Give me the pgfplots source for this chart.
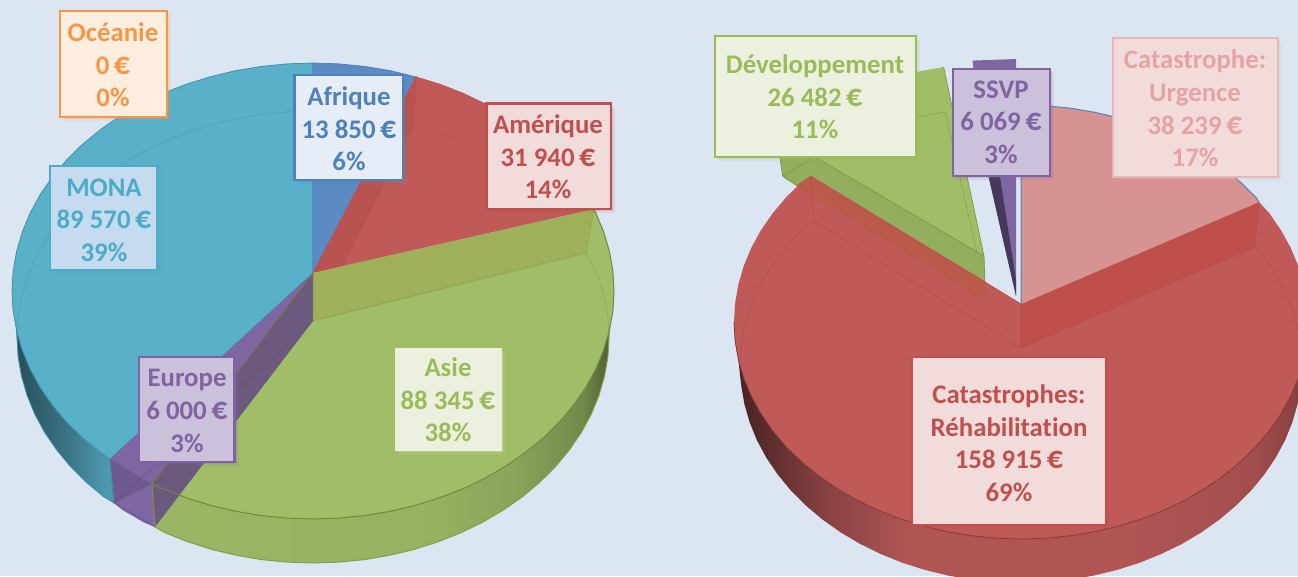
\documentclass[border=0pt]{standalone}
\usepackage{fontspec}
\usepackage{pgfplots}
\pgfplotsset{compat=1.18}
\usetikzlibrary{shadows}
\setmainfont{Carlito}[BoldFont={Carlito Bold},Ligatures=CommonOff]
\newcommand\eur{\kern-1.5pt{\fontsize{32}{32.6}\selectfont €}}
\definecolor{bg}{HTML}{DCE6F2}
\definecolor{cBlue}{HTML}{4F81BD}
\definecolor{cBlueF}{HTML}{5C8AC2}
\definecolor{cRed}{HTML}{C0504D}
\definecolor{cRedF}{HTML}{C05A58}
\definecolor{cRedW}{HTML}{B95352}
\definecolor{cRedR}{HTML}{BE4F4B}
\definecolor{cRedO}{HTML}{B95A4A}
\definecolor{cRedL}{HTML}{B04E4C}
\definecolor{cRim}{HTML}{B55757}
\definecolor{cPink}{HTML}{D79392}
\definecolor{cGreen}{HTML}{9BBB59}
\definecolor{cGreenF}{HTML}{A0BE68}
\definecolor{cGreenW}{HTML}{93AF5D}
\definecolor{cOlive}{HTML}{9EB05A}
\definecolor{cTeal}{HTML}{4BACC6}
\definecolor{cTealF}{HTML}{58B0C9}
\definecolor{cPurple}{HTML}{8064A2}
\definecolor{cPurpleF}{HTML}{7E66A3}
\definecolor{cPurpleD}{HTML}{6C5A7E}
\definecolor{cOrange}{HTML}{F79646}
\definecolor{lo}{HTML}{FEEEE0}
\definecolor{lb}{HTML}{E6EDF6}
\definecolor{lr}{HTML}{F2DCDB}
\definecolor{lt}{HTML}{C6DAF0}
\definecolor{lp}{HTML}{CCC1DA}
\definecolor{lg}{HTML}{EBF1DE}
\definecolor{ll}{HTML}{E6B9B8}
\definecolor{lm}{HTML}{E6A3A3}
\pgfdeclarehorizontalshading{tealrim}{100bp}{color(0bp)=(black!55!cTealF); color(25bp)=(black!55!cTealF); color(50bp)=(black!35!cTealF); color(70bp)=(black!14!cTealF); color(100bp)=(black!12!cTealF)}
\pgfdeclarehorizontalshading{greenrim}{100bp}{color(0bp)=(cGreenF!96!black); color(25bp)=(cGreenF!96!black); color(55bp)=(cGreenF!94!black); color(65bp)=(cGreenF!86!black); color(72bp)=(cGreenF!72!black); color(75bp)=(cGreenF!50!black); color(100bp)=(cGreenF!50!black)}
\pgfdeclarehorizontalshading{redrim}{100bp}{color(0bp)=(cRim!38!black); color(25bp)=(cRim!38!black); color(33bp)=(cRim!75!black); color(40bp)=(cRim!97!black); color(60bp)=(cRim!97!black); color(70bp)=(cRim!90!black); color(75bp)=(cRim!72!black); color(100bp)=(cRim!72!black)}
% front arc of the left top ellipse, Asie
\def\LTc{(594,209.3)(595.9,213)(603.7,232)(609.4,251.4)(612.9,271.1)(614,291)(612.9,310.9)(609.4,330.6)(603.7,350)(595.9,369)(585.8,387.4)(573.7,405)(559.6,421.8)(543.6,437.6)(525.8,452.2)(506.5,465.6)(485.7,477.8)(463.5,488.5)(440.2,497.6)(415.9,505.2)(390.9,511.2)(365.3,515.5)(339.2,518.1)(313,519)(286.8,518.1)(260.7,515.5)(235.1,511.2)(210.1,505.2)(185.8,497.6)(162.5,488.5)(152,484)}
\def\Poly#1#2{\edef\tmpc{#2}\expandafter\PolyB\expandafter{\tmpc}{#1}}
\def\PolyB#1#2{\addplot[#2] coordinates {#1};}
\newcommand\Lab[9]{%
  \draw[fill=#5,draw=#6,line width=#7,
    general shadow={shadow xshift=4pt,shadow yshift=-4pt,opacity=.12,fill=#6},
    general shadow={shadow xshift=2pt,shadow yshift=-2pt,opacity=.18,fill=#6}]
    (axis cs:#1,#2) rectangle (axis cs:#3,#4);
  \node[text=#8,align=center,font=\fontsize{26.8}{32.6}\selectfont\bfseries,inner sep=0pt] at (axis cs:#9)}
\begin{document}
\begin{tikzpicture}
\begin{axis}[width=1298pt,height=576pt,scale only axis,xmin=0,xmax=1298,ymin=0,ymax=576,y dir=reverse,
  axis line style={draw=none},ticks=none,clip=true,
  every axis plot/.append style={mark=none}]
\addplot[fill=bg,draw=none] coordinates {(0,0)(1298,0)(1298,576)(0,576)} --cycle;
%%%%%%%%%% LEFT PIE: rims
\addplot[shade,shading=tealrim,draw=none] coordinates {(16.6,330.6)(22.3,350)(30.1,369)(40.2,387.4)(52.3,405)(66.4,421.8)(82.4,437.6)(100.2,452.2)(110,459)(114,503)(103.7,496.8)(86.3,482.3)(70.5,466.6)(56.7,450)(44.7,432.5)(34.8,414.3)(27.1,395.5)(21.5,376.2)(18.1,356.7)} --cycle;
\addplot[fill=cPurpleF,draw=none] coordinates {(110,459)(152,484)(155,527)(143.2,522.1)(122.7,510.1)(114,503)} --cycle;
\addplot[shade,shading=greenrim,draw=none] coordinates {(152,484)(162.5,488.5)(185.8,497.6)(210.1,505.2)(235.1,511.2)(260.7,515.5)(286.8,518.1)(313,519)(339.2,518.1)(365.3,515.5)(390.9,511.2)(415.9,505.2)(440.2,497.6)(463.5,488.5)(485.7,477.8)(506.5,465.6)(525.8,452.2)(543.6,437.6)(559.6,421.8)(573.7,405)(585.8,387.4)(595.9,369)(603.7,350)(609.4,330.6)(607.9,356.7)(604.5,376.2)(598.9,395.5)(591.2,414.3)(581.3,432.5)(569.3,450)(555.5,466.6)(539.7,482.3)(522.3,496.8)(503.3,510.1)(482.8,522.1)(461,532.7)(438.1,541.8)(414.2,549.4)(389.6,555.3)(364.4,559.6)(338.8,562.1)(313,563)(287.2,562.1)(261.6,559.6)(236.4,555.3)(211.8,549.4)(187.9,541.8)(165,532.7)(155,527)} --cycle;
%%%%%%%%%% faces
\addplot[fill=cTealF,draw=cTeal!85!black,line width=.8pt] coordinates {(313,273)(110,459)(100.2,452.2)(82.4,437.6)(66.4,421.8)(52.3,405)(40.2,387.4)(30.1,369)(22.3,350)(16.6,330.6)(13.1,310.9)(12,291)(13.1,271.1)(16.6,251.4)(22.3,232)(30.1,213)(40.2,194.6)(52.3,177)(66.4,160.2)(82.4,144.4)(100.2,129.8)(119.5,116.4)(140.3,104.2)(162.5,93.5)(185.8,84.4)(210.1,76.8)(235.1,70.8)(260.7,66.5)(286.8,63.9)(313,63)} --cycle;
\addplot[fill=cBlueF,draw=cBlue,line width=.8pt] coordinates {(313,273)(313,63)(339.2,63.9)(365.3,66.5)(390.9,70.8)(416,77)} --cycle;
\addplot[fill=cRedF,draw=none] coordinates {(313,273)(416,77)(440.2,84.4)(463.5,93.5)(485.7,104.2)(506.5,116.4)(525.8,129.8)(543.6,144.4)(559.6,160.2)(573.7,177)(585.8,194.6)(594,209.3)} --cycle;
\Poly{fill=cGreenF,draw=none}{(313,273)\LTc} 
\addplot[fill=cPurpleF,draw=none] coordinates {(313,273)(110,459)(119.5,465.6)(140.3,477.8)(152,484)} --cycle;
%%%%%%%%%% walls seen through
\addplot[fill=cRedW,draw=none] coordinates {(313,273)(416,77)(414,125)(343,266)} --cycle;
\addplot[fill=cOlive,draw=none] coordinates {(313,273)(594,209.3)(586,253)(313,321)} --cycle;
\addplot[fill=cPurpleD,draw=none] coordinates {(313,273)(152,484)(155,527)(313,321)} --cycle;
\addplot[fill=black!12!cPurpleF,draw=none] coordinates {(110,459)(114,503)(152,484)} --cycle;
\addplot[draw=cOlive!70!black,line width=.8pt] coordinates {(313,273)(152,484)};
\addplot[draw=cPurple!80!black,line width=.6pt] coordinates {(110,459)(114,503)(155,527)};
\addplot[draw=cPurple!75!black,line width=.5pt,opacity=.6] coordinates {(313,321)(114,503)};
\addplot[draw=cOlive!90!black,line width=.5pt] coordinates {(594,209.3)(586,253)(313,321)(313,273)};
\addplot[draw=cRed,line width=.7pt] coordinates {(313,273)(416,77)(414,125)};
\addplot[draw=cRed,line width=.5pt] coordinates {(414,125)(438.1,132.2)(461,141.3)(482.8,151.9)(503.3,163.9)};
\addplot[draw=cGreen!90!black,line width=.5pt] coordinates {(586,253)(598.9,278.5)(604.5,297.8)(607.9,317.3)(609,337)};
\addplot[draw=cTeal!90!black,line width=.6pt,opacity=.7] coordinates {(313,111)(287.2,111.9)(261.6,114.4)(236.4,118.7)(211.8,124.6)(187.9,132.2)(165,141.3)(143.2,151.9)(122.7,163.9)(103.7,177.2)(86.3,191.7)(70.5,207.4)(56.7,224)(44.7,241.5)(34.8,259.7)(27.1,278.5)(21.5,297.8)(18.1,317.3)(17,337)(18.1,356.7)(21.5,376.2)};
% outlines
\Poly{draw=cGreen!72!black,line width=1pt}{\LTc}
\addplot[draw=cOlive!80!black,line width=1.2pt] coordinates {(152,484)(155,527)};
\addplot[draw=cGreen!85!black,line width=1pt] coordinates {(155,527)(165,532.7)(187.9,541.8)(211.8,549.4)(236.4,555.3)(261.6,559.6)(287.2,562.1)(313,563)(338.8,562.1)(364.4,559.6)(389.6,555.3)(414.2,549.4)(438.1,541.8)(461,532.7)(482.8,522.1)(503.3,510.1)(522.3,496.8)(539.7,482.3)(555.5,466.6)(569.3,450)(581.3,432.5)(591.2,414.3)(598.9,395.5)(604.5,376.2)(607.9,356.7)(609.4,330.6)};
\addplot[draw=cRed,line width=.8pt] coordinates {(416,77)(440.2,84.4)(463.5,93.5)(485.7,104.2)};
\addplot[draw=cTeal!85!black,line width=.8pt] coordinates {(110,459)(114,503)(103.7,496.8)(86.3,482.3)(70.5,466.6)(56.7,450)(44.7,432.5)(34.8,414.3)(27.1,395.5)(21.5,376.2)(18.1,356.7)(16.6,330.6)};
%%%%%%%%%% RIGHT PIE: exploded slices
\addplot[fill=cGreenF,draw=none] coordinates {(943.6,67)(984,256)(985.5,302)(784,178)(780,158)(780,100)(916,72)} --cycle;
\addplot[fill=cGreenW,draw=none] coordinates {(816.7,158)(984,256)(985.5,302)(782.7,176)(780,158)} --cycle;
\addplot[draw=cGreen!80!black,line width=.7pt] coordinates {(943.6,67)(984,256)(985.5,302)};
\addplot[draw=cGreen!80!black,line width=.7pt] coordinates {(780,158)(782.7,176)(797,185.5)};
\addplot[draw=cGreen!80!black,line width=.5pt] coordinates {(782.7,176)(813,158)};
\addplot[draw=cGreen!80!black,line width=.7pt] coordinates {(816.7,158)(984,256)};
\addplot[draw=cGreen!85!black,line width=.5pt] coordinates {(916,117)(945,112)(977,253)};
\addplot[fill=cPurpleF,draw=none] coordinates {(972.5,60.6)(1016,59)(1016,296)(988.7,177)} --cycle;
\addplot[fill=black!45!cPurpleF,draw=none] coordinates {(988.7,177)(1000,177)(1016,280)(1016,296)} --cycle;
%%%%%%%%%% red slice
\addplot[shade,shading=redrim,draw=none] coordinates {(738.4,359.7)(735.1,340.9)(743.8,378.2)(751.3,396.2)(760.9,413.7)(772.5,430.5)(785.9,446.5)(801.2,461.5)(818.1,475.4)(836.5,488.2)(856.4,499.8)(877.5,509.9)(899.7,518.7)(922.8,525.9)(946.7,531.6)(971.2,535.7)(996,538.2)(1021,539)(1046,538.2)(1070.8,535.7)(1095.3,531.6)(1119.2,525.9)(1142.3,518.7)(1164.5,509.9)(1185.6,499.8)(1205.5,488.2)(1223.9,475.4)(1240.8,461.5)(1256.1,446.5)(1269.5,430.5)(1281.1,413.7)(1290.7,396.2)(1298.2,378.2)(1303.6,359.7)(1306.9,340.9)(1300.9,384.9)(1297.7,403.7)(1292.4,422.2)(1285.1,440.2)(1275.7,457.7)(1264.3,474.5)(1251.2,490.5)(1236.2,505.5)(1219.7,519.4)(1201.6,532.2)(1182.2,543.8)(1161.5,553.9)(1139.8,562.7)(1117.1,569.9)(1093.7,575.6)(1069.8,579.7)(1045.5,582.2)(1021,583)(996.5,582.2)(972.2,579.7)(948.3,575.6)(924.9,569.9)(902.2,562.7)(880.5,553.9)(859.8,543.8)(840.4,532.2)(822.3,519.4)(805.8,505.5)(790.8,490.5)(777.7,474.5)(766.3,457.7)(756.9,440.2)(749.6,422.2)(744.3,403.7)(741.1,384.9)} --cycle;
\addplot[fill=cRedF,draw=none] coordinates {(1021,304)(1259,202)(1269.5,213.5)(1281.1,230.3)(1290.7,247.8)(1298.2,265.8)(1303.6,284.3)(1306.9,303.1)(1308,322)(1306.9,340.9)(1303.6,359.7)(1298.2,378.2)(1290.7,396.2)(1281.1,413.7)(1269.5,430.5)(1256.1,446.5)(1240.8,461.5)(1223.9,475.4)(1205.5,488.2)(1185.6,499.8)(1164.5,509.9)(1142.3,518.7)(1119.2,525.9)(1095.3,531.6)(1070.8,535.7)(1046,538.2)(1021,539)(996,538.2)(971.2,535.7)(946.7,531.6)(922.8,525.9)(899.7,518.7)(877.5,509.9)(856.4,499.8)(836.5,488.2)(818.1,475.4)(801.2,461.5)(785.9,446.5)(772.5,430.5)(760.9,413.7)(751.3,396.2)(743.8,378.2)(738.4,359.7)(735.1,340.9)(734,322)(735.1,303.1)(738.4,284.3)(743.8,265.8)(751.3,247.8)(760.9,230.3)(772.5,213.5)(785.9,197.5)(801.2,182.5)(810.5,176)} --cycle;
\addplot[fill=cRedO,draw=none] coordinates {(810,176.7)(986,282)(986,302)(796,185.5)} --cycle;
\addplot[fill=cRedR,draw=none] coordinates {(1021,304)(1259,202)(1255,247)(1021,348)} --cycle;
\addplot[draw=cRedL,line width=.5pt] coordinates {(1259,202)(1255,247)(1021,348)(1021,304)};
\addplot[draw=cRedL,line width=.5pt] coordinates {(810.5,176)(814,221.5)(1021,348)};
\addplot[draw=cRed,line width=.8pt] coordinates {(810.5,176)(1021,304)};
\addplot[draw=cRedL,line width=.5pt] coordinates {(814,221.5)(805.8,226.5)(790.8,241.5)(777.7,257.5)(766.3,274.3)(756.9,291.8)(749.6,309.8)(744.3,328.3)(741.1,347.1)(740,366)};
\addplot[draw=cRedL,line width=.5pt] coordinates {(1255,247)(1264.3,257.5)(1275.7,274.3)(1285.1,291.8)(1292.4,309.8)(1297.7,328.3)(1300.9,347.1)(1302,366)};
\addplot[draw=cRed!70!black,line width=.8pt] coordinates {(734,322)(735.1,340.9)(738.4,359.7)(743.8,378.2)(751.3,396.2)(760.9,413.7)(772.5,430.5)(785.9,446.5)(801.2,461.5)(818.1,475.4)(836.5,488.2)(856.4,499.8)(877.5,509.9)(899.7,518.7)(922.8,525.9)(946.7,531.6)(971.2,535.7)(996,538.2)(1021,539)(1046,538.2)(1070.8,535.7)(1095.3,531.6)(1119.2,525.9)(1142.3,518.7)(1164.5,509.9)(1185.6,499.8)(1205.5,488.2)(1223.9,475.4)(1240.8,461.5)(1256.1,446.5)(1269.5,430.5)(1281.1,413.7)(1290.7,396.2)(1298.2,378.2)};
\addplot[fill=cPink,draw=none] coordinates {(1021,304)(1021,105)(1046,105.8)(1070.8,108.3)(1095.3,112.4)(1119.2,118.1)(1142.3,125.3)(1164.5,134.1)(1185.6,144.2)(1205.5,155.8)(1223.9,168.6)(1240.8,182.5)(1256.1,197.5)(1259,202)} --cycle;
\addplot[draw=cBlue,line width=1pt] coordinates {(1021,304)(1021,105)(1046,105.8)(1070.8,108.3)(1095.3,112.4)(1119.2,118.1)(1142.3,125.3)(1164.5,134.1)(1185.6,144.2)(1205.5,155.8)(1223.9,168.6)(1240.8,182.5)(1256.1,197.5)(1259,202)};
%%%%%%%%%% labels
\Lab{60}{11}{167}{117}{lo}{cOrange}{2.5pt}{cOrange}{113,65}{Océanie\\0 \eur\\0\%};
\Lab{294.5}{75}{403}{180}{lb}{cBlue}{2.5pt}{cBlue}{349,129}{Afrique\\13 850 \eur\\6\%};
\Lab{486.5}{103.5}{611}{209}{lr}{cRed}{2.5pt}{cRed}{548,157}{Amérique\\31 940 \eur\\14\%};
\Lab{50}{166}{157.5}{270}{lt}{cTeal}{2.5pt}{cTeal}{104,220}{MONA\\89 570 \eur\\39\%};
\Lab{139}{357}{234.5}{462}{lp}{cPurple}{2.5pt}{cPurple}{187,411}{Europe\\6 000 \eur\\3\%};
\Lab{395}{348}{501}{450}{lg}{lg}{1pt}{cGreen}{448,400}{Asie\\88 345 \eur\\38\%};
\Lab{715}{36}{916}{157}{lg}{cGreen}{2.5pt}{cGreen}{815,97}{Développement\\26 482 \eur\\11\%};
\Lab{953}{69}{1050}{176}{lp}{cPurple}{2.5pt}{cPurple}{1001,122}{SSVP\\6 069 \eur\\3\%};
\Lab{1113}{38}{1278}{177}{lr}{ll}{2.5pt}{lm}{1195,108.5}{Catastrophe:\\Urgence\\38 239 \eur\\17\%};
\Lab{912}{357}{1106}{525}{lr}{cRed}{2pt}{cRed}{1009,443}{Catastrophes:\\Réhabilitation\\158 915 \eur\\69\%};
\end{axis}
\end{tikzpicture}
\end{document}
